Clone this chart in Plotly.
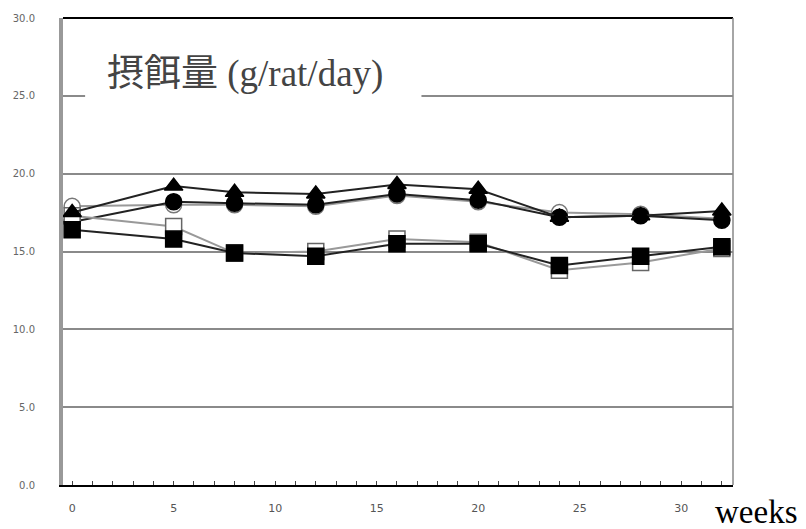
import plotly.graph_objects as go

weeks = [0, 5, 8, 12, 16, 20, 24, 28, 32]
open_circle = [17.9, 18.0, 18.0, 17.9, 18.6, 18.2, 17.5, 17.4, 17.1]
filled_circle = [16.9, 18.2, 18.1, 18.0, 18.7, 18.3, 17.2, 17.3, 17.0]
filled_triangle = [17.5, 19.2, 18.8, 18.7, 19.3, 19.0, 17.2, 17.3, 17.6]
open_square = [17.3, 16.6, 14.9, 15.0, 15.8, 15.6, 13.8, 14.3, 15.2]
filled_square = [16.4, 15.8, 14.9, 14.7, 15.5, 15.5, 14.1, 14.7, 15.3]

y_ticks = [0, 5, 10, 15, 20, 25, 30]
y_tick_text = ["0.0", "5.0", "10.0", "15.0", "20.0", "25.0", "30.0"]
x_ticks = [0, 5, 10, 15, 20, 25, 30]
title_text = "摂餌量 (g/rat/day)"
x_unit = "weeks"

fig = go.Figure()

series = [
    (open_circle, "circle", "white", "#777777", "#999999"),
    (filled_circle, "circle", "black", "black", "#222222"),
    (open_square, "square", "white", "#666666", "#999999"),
    (filled_square, "square", "black", "black", "#222222"),
    (filled_triangle, "triangle-up", "black", "black", "#222222"),
]
for vals, sym, fill, edge, lcol in series:
    fig.add_trace(go.Scatter(
        x=weeks, y=vals, mode="lines+markers",
        line=dict(color=lcol, width=2),
        marker=dict(symbol=sym, size=16, color=fill,
                    line=dict(color=edge, width=1.5)),
        showlegend=False,
    ))

fig.update_layout(
    width=806, height=529,
    margin=dict(l=63, r=73, t=16, b=44),
    plot_bgcolor="white", paper_bgcolor="white",
    xaxis=dict(
        range=[-0.45, 32.55], tickvals=x_ticks,
        showgrid=False, zeroline=False,
        showline=True, linecolor="black", linewidth=2,
        ticks="", ticklabelstandoff=12,
        tickfont=dict(family="DejaVu Sans", size=11, color="#555555"),
        minor=dict(dtick=1, tick0=0, ticks="inside", ticklen=4,
                   tickcolor="#444444", showgrid=False),
        mirror=False,
    ),
    yaxis=dict(
        range=[0, 30], tickvals=y_ticks, ticktext=y_tick_text,
        showgrid=True, gridcolor="#8a8a8a", gridwidth=2,
        zeroline=False,
        showline=True, linecolor="#999999", linewidth=4,
        ticks="", ticklabelstandoff=22,
        tickfont=dict(family="DejaVu Sans", size=10, color="#666666"),
    ),
    shapes=[
        dict(type="rect", xref="paper", yref="paper",
             x0=0.033, x1=0.535, y0=0.80, y1=0.96,
             fillcolor="white", line=dict(width=0), layer="above"),
        dict(type="line", xref="paper", yref="paper", x0=0, x1=1, y0=1, y1=1,
             line=dict(color="black", width=2)),
        dict(type="line", xref="paper", yref="paper", x0=1, x1=1, y0=0, y1=1,
             line=dict(color="#888888", width=1.5)),
    ],
    annotations=[
        dict(text=title_text, xref="paper", yref="paper",
             x=0.062, y=0.88, xanchor="left", yanchor="middle",
             showarrow=False,
             font=dict(family="Liberation Serif, Noto Sans CJK JP", size=37,
                       color="#444444")),
        dict(text=x_unit, xref="paper", yref="paper",
             x=1.034, y=-0.058, xanchor="center", yanchor="middle",
             showarrow=False,
             font=dict(family="Liberation Serif", size=33, color="black")),
    ],
)

fig.write_html("out.html")
